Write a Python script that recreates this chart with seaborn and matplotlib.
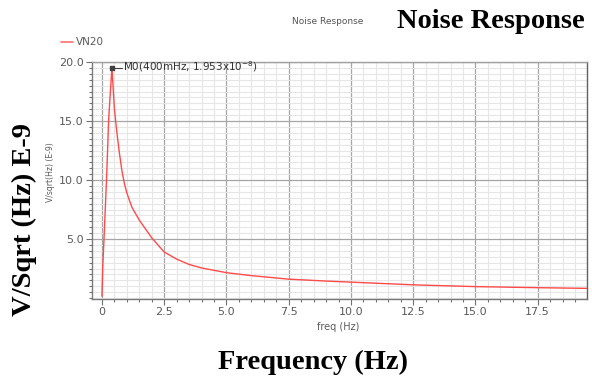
import numpy as np
import pandas as pd
import matplotlib
matplotlib.use("Agg")
import matplotlib.pyplot as plt
import seaborn as sns
from matplotlib.ticker import MultipleLocator, FixedLocator

# VN2 noise density (units of 1e-9 V/sqrt(Hz)) versus frequency
freq = [0.0, 0.03, 0.08, 0.19, 0.27, 0.4, 0.5, 0.6, 0.7, 0.8, 0.9, 1.0, 1.2,
        1.5, 2.0, 2.5, 3.0, 3.5, 4.0, 5.0, 6.0, 7.5, 9.0, 10.0, 12.5, 15.0,
        17.5, 19.5]
vn2 = [0.15, 2.6, 4.9, 10.4, 15.2, 19.53, 16.0, 14.0, 12.3, 10.8, 9.7, 8.9,
       7.7, 6.6, 5.1, 3.9, 3.3, 2.85, 2.55, 2.15, 1.9, 1.6, 1.44, 1.35,
       1.12, 0.97, 0.88, 0.82]

marker_f = 0.4
marker_v = 19.53

xticks = [0, 2.5, 5.0, 7.5, 10.0, 12.5, 15.0, 17.5]
xtick_labels = ["0", "2.5", "5.0", "7.5", "10.0", "12.5", "15.0", "17.5"]
yticks = [5.0, 10.0, 15.0, 20.0]
ytick_labels = ["5.0", "10.0", "15.0", "20.0"]

df = pd.DataFrame({"freq": freq, "vn2": vn2})

sns.set_style("white")
plt.rcParams["font.family"] = ["DejaVu Sans"]

fig = plt.figure(figsize=(5.92, 3.76), dpi=100)
ax = fig.add_axes([92 / 592, 77 / 376, 495 / 592, 237 / 376])

sns.lineplot(data=df, x="freq", y="vn2", color="#ff4a4a", lw=1.0, ax=ax,
             legend=False)

ax.set_xlim(-0.4, 19.48)
ax.set_ylim(-0.08, 20.0)

ax.xaxis.set_major_locator(FixedLocator(xticks))
ax.set_xticklabels(xtick_labels)
ax.yaxis.set_major_locator(FixedLocator(yticks))
ax.set_yticklabels(ytick_labels)
ax.xaxis.set_minor_locator(MultipleLocator(0.5))
ax.yaxis.set_minor_locator(MultipleLocator(0.5))

ax.grid(which="major", color="#a6a6a6", lw=0.9)
ax.grid(which="minor", color="#e6e6e6", lw=0.8)
ax.set_axisbelow(True)

ax.tick_params(which="major", length=4, width=0.8, color="#707070",
               labelsize=8, labelcolor="#5a5a5a", pad=2, direction="out",
               left=True, bottom=True)
ax.tick_params(which="minor", length=2, width=0.8, color="#707070",
               direction="out", left=True, bottom=True)

for side, c in [("left", "#7a7a7a"), ("bottom", "#7a7a7a"),
                ("top", "#a0a0a0"), ("right", "#606060")]:
    ax.spines[side].set_visible(True)
    ax.spines[side].set_color(c)
    ax.spines[side].set_linewidth(1.0)

ax.set_xlabel("freq (Hz)", fontsize=7, color="#5a5a5a", labelpad=1)
ax.xaxis.set_label_coords((338 - 92) / 495, -(322 - 299) / 237)
ax.set_ylabel("V/sqrt(Hz) (E-9)", fontsize=5.5, color="#5a5a5a")
ax.yaxis.set_label_coords(-(92 - 55) / 495, (299 - 172) / 237)

# marker M0 at the peak
ax.plot([marker_f], [marker_v], marker="s", ms=2.5, color="#404040",
        zorder=5)
ax.plot([marker_f, marker_f + 0.4], [marker_v, marker_v], color="#404040",
        lw=0.8, zorder=5)
ax.text(marker_f + 0.45, marker_v + 0.1,
        r"M0(400mHz, 1.953x10$^{-8}$)", fontsize=7.5, color="#303030",
        va="center", ha="left", zorder=6)

# legend entry
fig.lines.append(plt.Line2D([61 / 592, 73 / 592], [1 - 42 / 376, 1 - 42 / 376],
                            color="#ff7070", lw=1.2, transform=fig.transFigure))
fig.text(76 / 592, 1 - 42 / 376, "VN20", fontsize=7.5, color="#5a5a5a",
         va="center", ha="left")

# titles and large axis captions
fig.text(292 / 592, 1 - 21 / 376, "Noise Response", fontsize=6.5,
         color="#555555", va="center", ha="left")
fig.text(491 / 592, 1 - 21 / 376, "Noise Response", fontsize=20.5,
         fontweight="bold", family="Liberation Serif", color="black",
         va="center", ha="center")
fig.text(313 / 592, 1 - 362 / 376, "Frequency (Hz)", fontsize=20.5,
         fontweight="bold", family="Liberation Serif", color="black",
         va="center", ha="center")
fig.text(24 / 592, 1 - 219 / 376, "V/Sqrt (Hz) E-9", fontsize=20.5,
         fontweight="bold", family="Liberation Serif", color="black",
         va="center", ha="center", rotation=90)

fig.savefig("out.png", dpi=100)
